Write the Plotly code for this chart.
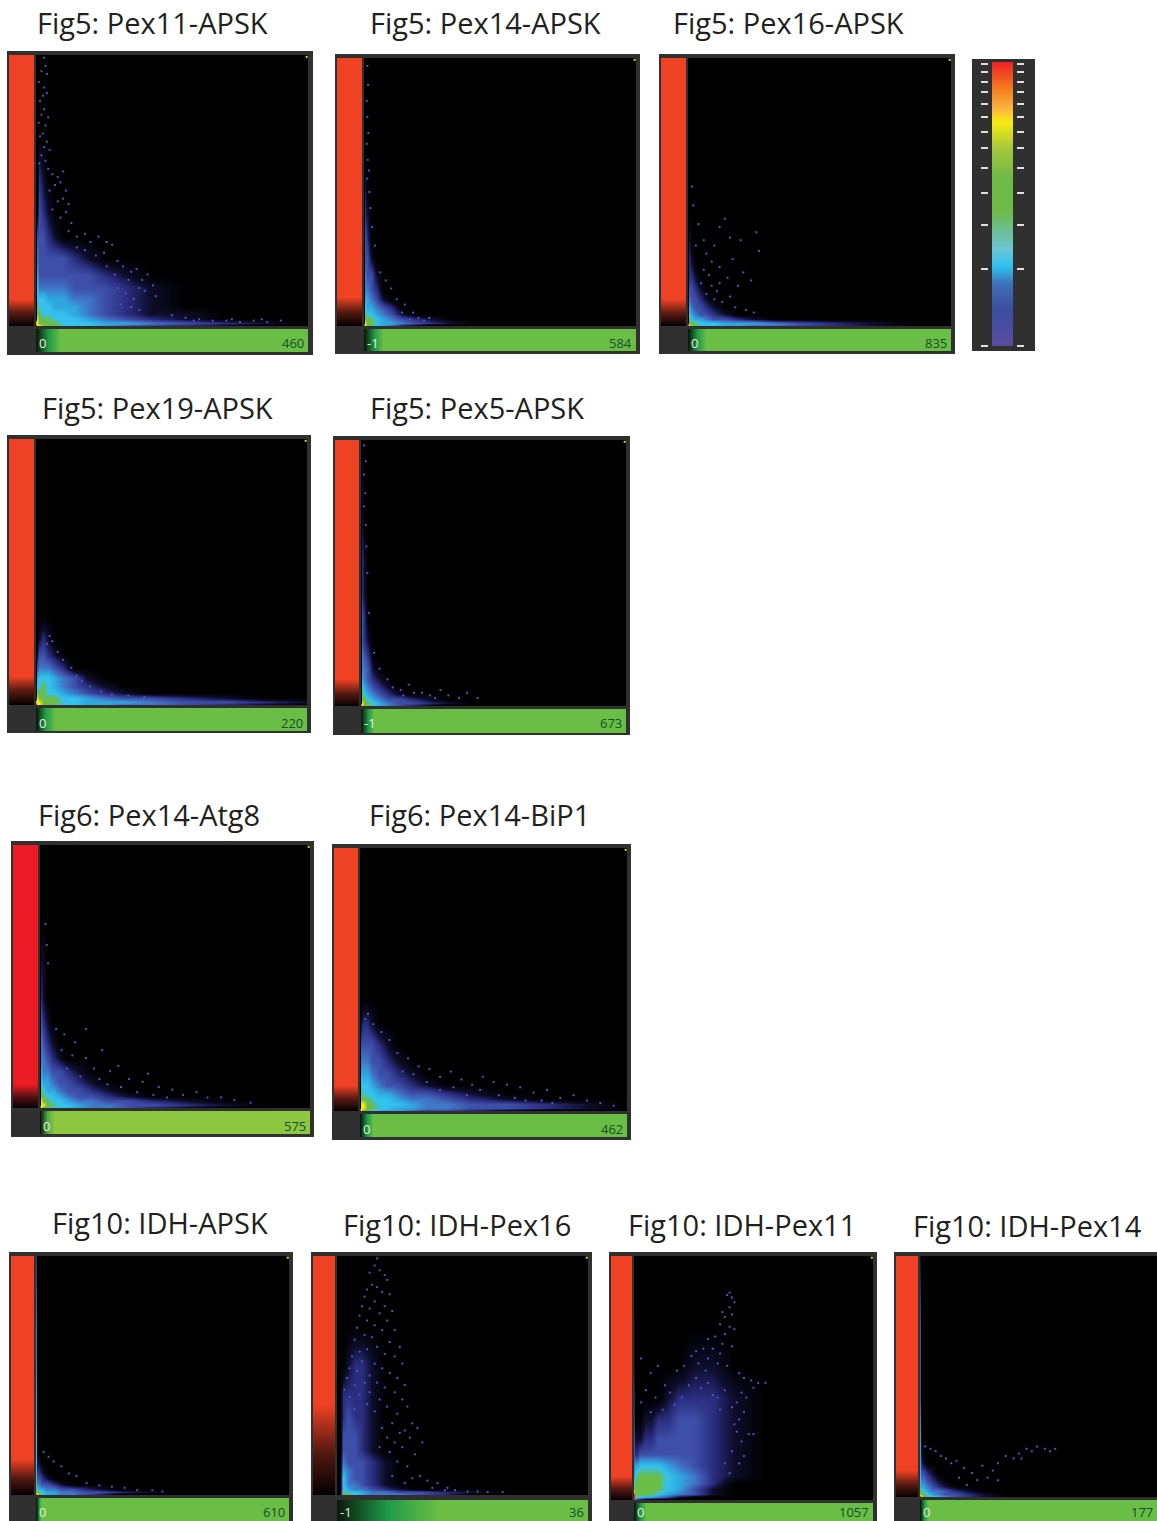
import plotly.graph_objects as go

W, H = 1157, 1521
FRAME = "#303030"

# density grid coordinates (fractions of each plot square)
GRID_X = [0, .005, .012, .025, .045, .07, .1, .14, .19, .25, .33, .42, .55, .7, .85, 1]
GRID_Y = [1, .85, .7, .55, .42, .33, .25, .19, .14, .1, .07, .045, .025, .012, .005, 0]

PEX11_APSK = ["0000000000000000","0000000000000000","0000000000000000","0021000000000000",
 "0032100000000000","0333210000000000","0433333210000000","0533333332100000",
 "0644444333210000","0666555443210000","0766655543210000","0776666543211000",
 "0877766654321000","8877776665543210","9887776665432100","9777655400000000"]
PEX14_APSK = ["0000000000000000","0000000000000000","0000000000000000","0100000000000000",
 "0210000000000000","0320000000000000","0331000000000000","0433100000000000",
 "0443200000000000","0554310000000000","0655432000000000","0766543100000000",
 "0777654321000000","0877655432100000","9877654210000000","9776531000000000"]
PEX16_APSK = ["0000000000000000","0000000000000000","0000000000000000","0000000000000000",
 "0000000000000000","0100000000000000","0210000000000000","0221000000000000",
 "0332100000000000","0433210000000000","0543321000000000","0654332100000000",
 "0765543321000000","0777666555432100","9877666554432100","9766544300000000"]
PEX19_APSK = ["0000000000000000","0000000000000000","0000000000000000","0000000000000000",
 "0000000000000000","0000000000000000","0012100000000000","0133210000000000",
 "0344432000000000","0566654310000000","0667654321000000","0777665432100000",
 "0877776654332100","8887776655543321","9887776655443210","9776654300000000"]
PEX5_APSK = ["0000000000000000","0100000000000000","0100000000000000","0210000000000000",
 "0210000000000000","0320000000000000","0321000000000000","0432000000000000",
 "0443100000000000","0543210000000000","0654321000000000","0765432100000000",
 "0776543321000000","0877654332100000","9877654321000000","9776432000000000"]
PEX14_ATG8 = ["0000000000000000","0000000000000000","0000000000000000","0110000000000000",
 "0210000000000000","0321000000000000","0432100000000000","0443210000000000",
 "0544332100000000","0655433210000000","0765543321000000","0776654332100000",
 "0877665443321000","0887766544332100","9877666544321000","9776543300000000"]
PEX14_BIP1 = ["0000000000000000","0000000000000000","0000000000000000","0000000000000000",
 "0000000000000000","0122100000000000","0333321000000000","0444332100000000",
 "0555433210000000","0666543321000000","0766655433210000","0777666544321000",
 "0887766654433210","0887766554433210","9877665543321000","9776543300000000"]
IDH_APSK = ["2000000000000000","3000000000000000","4000000000000000","4000000000000000",
 "5000000000000000","5000000000000000","6000000000000000","6000000000000000",
 "6110000000000000","6221000000000000","7332100000000000","7443321000000000",
 "7655443321000000","7776554433210000","9876554432000000","9765430000000000"]
IDH_PEX16 = ["0000000000000000","0000000000000000","0000000000000000","0000122100000000",
 "0002222100000000","0002322100000000","0003332100000000","0003332100000000",
 "0004333210000000","0005433210000000","0006433210000000","0006443210000000",
 "0006544321000000","0007665443321000","0007765444320000","0000000000000000"]
IDH_PEX11 = ["0000000000000000","0000000000000000","1000000000000000","1000000001100000",
 "2000000122210000","2000112233210000","3111223333210000","3223333333210000",
 "4556666543210000","5677777654210000","6777777654200000","7777777653100000",
 "9777776543100000","9766554310000000","9432100000000000","8200000000000000"]
IDH_PEX14 = ["1000000000000000","2000000000000000","3000000000000000","3000000000000000",
 "3000000000000000","4000000000000000","5000000000000000","5100000000000000",
 "5210000000000000","6332100000000000","6443210000000000","7554321000000000",
 "7765443210000000","7776543321000000","9877654321000000","9765430000000000"]

TITLES = ["Fig5: Pex11-APSK","Fig5: Pex14-APSK","Fig5: Pex16-APSK","Fig5: Pex19-APSK","Fig5: Pex5-APSK",
 "Fig6: Pex14-Atg8","Fig6: Pex14-BiP1","Fig10: IDH-APSK","Fig10: IDH-Pex16","Fig10: IDH-Pex11","Fig10: IDH-Pex14"]
GRIDS = [PEX11_APSK,PEX14_APSK,PEX16_APSK,PEX19_APSK,PEX5_APSK,PEX14_ATG8,PEX14_BIP1,IDH_APSK,IDH_PEX16,IDH_PEX11,IDH_PEX14]
MIN_LABELS = ["0","-1","0","0","-1","0","0","0","-1","0","0"]
MAX_LABELS = ["460","584","835","220","673","575","462","610","36","1057","177"]
RED_FADE = [.10,.11,.10,.11,.10,.09,.10,.15,.38,.10,.11]
GREEN_FADE = [.09,.07,.07,.07,.05,.05,.05,.02,.40,.05,.03]

# hand-read speckle points (x, y as fractions of the plot square)
SPECK_PEX11 = [(.03,.99),(.035,.96),(.02,.94),(.04,.93),(.01,.9),(.03,.88),(.025,.85),(.04,.86),(.015,.83),(.03,.8),(.02,.78),(.045,.77),(.01,.75),(.035,.74),(.025,.71),(.015,.7),(.04,.68),(.03,.66),(.05,.65),(.02,.63),(.035,.61),(.012,.6),(.045,.58),(.06,.56),(.08,.55),(.1,.57),(.09,.53),(.07,.52),(.11,.5),(.05,.5),(.1,.47),(.08,.46),(.12,.45),(.06,.43),(.11,.42),(.09,.4),(.13,.38),(.12,.35),(.15,.33),(.18,.34),(.2,.31),(.23,.33),(.26,.31),(.28,.3),(.25,.27),(.3,.24),(.32,.22),(.35,.2),(.37,.21),(.34,.17),(.39,.17),(.41,.19),(.38,.14),(.4,.13),(.43,.15),(.44,.11),(.36,.1),(.33,.12),(.3,.14),(.31,.08),(.35,.07),(.38,.06),(.29,.19),(.26,.22),(.22,.26),(.18,.28),(.15,.29),(.5,.04),(.55,.03),(.6,.025),(.65,.02),(.7,.02),(.75,.015),(.8,.02),(.85,.015),(.9,.02),(.58,.02),(.72,.025),(.83,.025)]
SPECK_PEX14 = [(.012,.97),(.015,.9),(.01,.84),(.012,.78),(.016,.72),(.01,.68),(.014,.62),(.018,.58),(.012,.55),(.02,.5),(.024,.44),(.03,.37),(.04,.3),(.06,.2),(.08,.17),(.1,.14),(.12,.1),(.15,.08),(.14,.05),(.18,.05),(.2,.03),(.24,.03),(.22,.02),(.17,.025)]
SPECK_PEX16 = [(.12,.37),(.14,.4),(.16,.33),(.1,.3),(.2,.32),(.26,.35),(.27,.28),(.07,.27),(.09,.24),(.12,.22),(.17,.25),(.21,.2),(.06,.21),(.15,.18),(.19,.15),(.24,.17),(.05,.16),(.11,.13),(.03,.3),(.04,.38),(.06,.32),(.08,.19),(.1,.1),(.13,.09),(.16,.11),(.09,.15),(.02,.45),(.015,.52),(.07,.12),(.18,.07),(.22,.06),(.25,.05),(.12,.16)]
SPECK_PEX19 = [(.05,.26),(.06,.24),(.04,.23),(.08,.2),(.1,.17),(.13,.14),(.15,.11),(.17,.09),(.2,.07),(.24,.05),(.28,.04),(.34,.035),(.4,.03)]
SPECK_PEX5 = [(.012,.98),(.018,.92),(.012,.87),(.016,.8),(.012,.75),(.018,.68),(.02,.6),(.024,.5),(.03,.35),(.05,.2),(.07,.14),(.1,.1),(.12,.07),(.15,.06),(.18,.08),(.2,.05),(.23,.05),(.26,.04),(.3,.06),(.33,.04),(.37,.03),(.4,.05),(.44,.03),(.16,.04),(.28,.03)]
SPECK_ATG8 = [(.02,.7),(.025,.62),(.03,.55),(.06,.3),(.09,.28),(.13,.25),(.17,.3),(.08,.22),(.12,.2),(.17,.19),(.23,.22),(.2,.15),(.26,.14),(.29,.16),(.33,.11),(.38,.1),(.4,.13),(.44,.08),(.49,.07),(.53,.05),(.58,.06),(.62,.04),(.67,.04),(.72,.03),(.78,.02),(.3,.08),(.36,.06),(.42,.05),(.47,.04),(.25,.09),(.15,.12),(.1,.15),(.22,.11)]
SPECK_BIP1 = [(.03,.37),(.02,.35),(.05,.33),(.08,.3),(.11,.27),(.14,.22),(.18,.2),(.22,.17),(.26,.16),(.3,.13),(.34,.15),(.38,.12),(.42,.1),(.46,.13),(.5,.11),(.55,.1),(.6,.09),(.65,.07),(.7,.08),(.75,.05),(.8,.06),(.85,.04),(.9,.03),(.95,.02),(.35,.09),(.45,.08),(.52,.06),(.58,.05),(.62,.04),(.68,.04),(.4,.06),(.25,.11),(.3,.08),(.2,.14),(.16,.15),(.72,.03)]
SPECK_IDHAPSK = [(.03,.18),(.05,.16),(.07,.14),(.1,.12),(.13,.09),(.16,.08),(.2,.05),(.25,.04),(.3,.035),(.35,.03),(.4,.02),(.46,.02),(.5,.015)]
SPECK_IDHP16 = [(.16,.99),(.15,.96),(.17,.94),(.13,.93),(.19,.92),(.2,.9),(.14,.88),(.12,.86),(.16,.87),(.18,.85),(.11,.83),(.21,.84),(.15,.81),(.1,.79),(.13,.78),(.19,.79),(.22,.77),(.09,.75),(.17,.76),(.12,.73),(.15,.71),(.2,.73),(.08,.7),(.18,.69),(.11,.67),(.23,.69),(.14,.66),(.07,.65),(.21,.64),(.16,.62),(.25,.62),(.09,.6),(.12,.61),(.19,.59),(.06,.58),(.23,.58),(.1,.56),(.15,.55),(.26,.55),(.05,.53),(.18,.53),(.08,.52),(.13,.5),(.21,.51),(.24,.49),(.04,.49),(.11,.47),(.16,.47),(.07,.46),(.27,.46),(.19,.45),(.03,.44),(.13,.43),(.23,.43),(.09,.42),(.05,.41),(.17,.4),(.26,.4),(.12,.38),(.2,.37),(.28,.37),(.07,.36),(.15,.35),(.24,.34),(.3,.3),(.27,.27),(.32,.28),(.29,.24),(.34,.22),(.26,.2),(.31,.17),(.24,.14),(.28,.12),(.33,.08),(.36,.06),(.4,.05),(.44,.03),(.47,.02),(.52,.015),(.56,.015),(.6,.012),(.66,.012),(.3,.07),(.27,.05),(.22,.08),(.38,.03),(.43,.02),(.2,.24),(.22,.3),(.18,.28),(.25,.26),(.21,.18),(.17,.2),(.23,.22)]
SPECK_IDHP11 = [(.4,.85),(.41,.83),(.39,.84),(.42,.81),(.4,.79),(.37,.77),(.41,.76),(.38,.75),(.36,.72),(.42,.7),(.4,.71),(.38,.68),(.34,.67),(.31,.66),(.37,.64),(.41,.63),(.29,.62),(.33,.62),(.26,.61),(.36,.6),(.24,.59),(.31,.58),(.27,.56),(.21,.55),(.35,.56),(.39,.55),(.18,.53),(.3,.53),(.44,.52),(.46,.5),(.49,.49),(.52,.48),(.5,.46),(.55,.48),(.45,.44),(.47,.42),(.43,.4),(.38,.45),(.35,.42),(.41,.38),(.46,.36),(.44,.33),(.42,.31),(.48,.27),(.5,.27),(.45,.24),(.46,.18),(.44,.15),(.41,.2),(.38,.15),(.4,.11),(.43,.28),(.1,.55),(.03,.58),(.07,.52),(.13,.47),(.05,.45),(.09,.42),(.15,.44),(.03,.4),(.12,.37),(.07,.36),(.17,.39),(.2,.42),(.23,.47),(.26,.5),(.28,.46),(.31,.48),(.33,.43),(.36,.37)]
SPECK_IDHP14 = [(.02,.21),(.04,.2),(.06,.19),(.08,.17),(.1,.16),(.12,.14),(.14,.15),(.17,.12),(.2,.1),(.24,.13),(.28,.11),(.3,.14),(.33,.17),(.36,.16),(.38,.18),(.41,.2),(.43,.19),(.45,.21),(.48,.2),(.5,.19),(.52,.2),(.39,.16),(.26,.08),(.22,.07),(.18,.05),(.3,.07),(.15,.08)]
SPECKS = {0:SPECK_PEX11,1:SPECK_PEX14,2:SPECK_PEX16,3:SPECK_PEX19,4:SPECK_PEX5,5:SPECK_ATG8,6:SPECK_BIP1,7:SPECK_IDHAPSK,8:SPECK_IDHP16,9:SPECK_IDHP11,10:SPECK_IDHP14}

# legend bar stops
LEG_POS = [0,.127,.22,.28,.34,.40,.48,.595,.70,.79,.84,.90,1]
LEG_VAL = [i/12 for i in range(13)]
LEG_COLORS = ["#5b4a9f","#3a4ea0","#3f6fb8","#2cc0f0","#6cc6d8","#6bbf9c","#6dbb45","#6dbb45","#a8c83b","#f7ec13","#fbb040","#f58220","#ee2224"]
LEG_TICK_PX = [64,72,82,92,104,117,132,148,168,193,225,269,346]

# pixel geometry: frame, red bar, plot, green bar, title position
GEOM = [
 ((7,51,313,355),(9,34),(36,308,55,326),(329,352),(35,22)),
 ((335,54,640,354),(337,362),(364,636,58,326),(329,351),(368,22)),
 ((659,54,955,354),(661,686),(688,951,58,326),(329,351),(671,22)),
 ((7,435,311,733),(9,34),(36,307,439,705),(708,731),(40,407)),
 ((333,436,630,735),(335,359),(361,626,440,706),(709,733),(368,407)),
 ((11,841,314,1137),(13,38),(40,310,845,1108),(1111,1134),(36,814)),
 ((332,844,631,1140),(334,358),(360,627,848,1111),(1114,1137),(367,814)),
 ((9,1252,293,1530),(11,34),(36,289,1256,1495),(1498,1530),(50,1222)),
 ((311,1252,592,1530),(313,335),(337,588,1256,1495),(1500,1530),(341,1224)),
 ((609,1252,877,1530),(611,632),(634,873,1256,1500),(1503,1530),(626,1224)),
 ((894,1252,1180,1530),(896,918),(920,1180,1256,1497),(1500,1530),(911,1225)),
]

DENSITY_SCALE = [[0,"#000000"],[1/9,"#0d0d2a"],[2/9,"#2a2e80"],[3/9,"#3d4fa8"],[4/9,"#3f78c8"],
                 [5/9,"#2fa8e0"],[6/9,"#35c2ee"],[7/9,"#6abd45"],[8/9,"#f5e90f"],[1,"#ee2024"]]
RED_SCALE = [[0,"#000000"],[.5,"#5a1a12"],[1,"#ef4123"]]
GREEN_SCALE = [[0,"#0a1a0a"],[.5,"#1f9a48"],[1,"#6abd45"]]

fig = go.Figure()
layout_axes, shapes, annotations = {}, [], []
axn = [0]


def new_axes(x0, x1, y0, y1, xr=(0, 1), yr=(0, 1), **ykw):
    """make an axis pair covering a pixel box (y downward in pixels)"""
    axn[0] += 1
    n = axn[0]
    sfx = "" if n == 1 else str(n)
    span = (min(x1, W) - x0) / (x1 - x0)
    layout_axes["xaxis" + sfx] = dict(domain=[x0 / W, min(x1 / W, 1)], range=[xr[0], xr[0] + (xr[1] - xr[0]) * span],
                                      visible=False, anchor="y" + sfx, fixedrange=True)
    yy = dict(domain=[1 - min(y1, H) / H, 1 - y0 / H], anchor="x" + sfx, fixedrange=True, visible=False)
    clip = (min(y1, H) - y0) / (y1 - y0)
    yy["range"] = [yr[1] - (yr[1] - yr[0]) * clip, yr[1]]
    yy.update(ykw)
    layout_axes["yaxis" + sfx] = yy
    return "x" + sfx, "y" + sfx


def box(x0, y0, x1, y1, color):
    shapes.append(dict(type="rect", xref="paper", yref="paper", x0=x0 / W, x1=x1 / W, y0=1 - y0 / H, y1=1 - y1 / H,
                       fillcolor=color, line_width=0, layer="below"))


for i, (frame, red, plot, green, ttl) in enumerate(GEOM):
    box(*frame, FRAME)
    px0, px1, py0, py1 = plot
    box(px0, py0, min(px1, W + 5), py1, "#000000")
    f = RED_FADE[i]
    xa, ya = new_axes(red[0], red[1], py0, py1)
    fig.add_trace(go.Heatmap(x=[0, 1], y=[0, f * .5, f, 1], z=[[0, 0], [.5, .5], [1, 1], [1, 1]], zmin=0, zmax=1,
                             colorscale=RED_SCALE if i != 5 else [[0, "#000"], [.5, "#5a1015"], [1, "#ed1c24"]],
                             showscale=False, zsmooth="best", xaxis=xa, yaxis=ya, hoverinfo="skip"))
    g = GREEN_FADE[i]
    xa, ya = new_axes(px0, px1, green[0], green[1])
    fig.add_trace(go.Heatmap(x=[0, g * .5, g, 1], y=[0, 1], z=[[0, .5, 1, 1], [0, .5, 1, 1]], zmin=0, zmax=1,
                             colorscale=GREEN_SCALE if i != 5 else [[0, "#0a1a0a"], [.5, "#50a848"], [1, "#8dc63f"]],
                             showscale=False, zsmooth="best", xaxis=xa, yaxis=ya, hoverinfo="skip"))
    xa, ya = new_axes(px0, px1, py0, py1)
    z = [[int(c) for c in row] for row in GRIDS[i]]
    fig.add_trace(go.Heatmap(x=GRID_X, y=GRID_Y, z=z, zmin=0, zmax=9, colorscale=DENSITY_SCALE, showscale=False,
                             zsmooth="best", xaxis=xa, yaxis=ya, hoverinfo="skip"))
    pts = SPECKS[i]
    fig.add_trace(go.Scatter(x=[p[0] for p in pts], y=[p[1] for p in pts], mode="markers", xaxis=xa, yaxis=ya,
                             hoverinfo="skip", marker=dict(symbol="square", size=2, color="#5054bb", line_width=0)))
    fig.add_trace(go.Scatter(x=[.995], y=[.993], mode="markers", xaxis=xa, yaxis=ya, hoverinfo="skip",
                             marker=dict(symbol="square", size=2, color="#d8d820", line_width=0)))
    annotations.append(dict(text=TITLES[i], x=ttl[0] / W, y=1 - ttl[1] / H, xref="paper", yref="paper", xanchor="left",
                            yanchor="middle", showarrow=False, font=dict(family="Open Sans", size=29, color="#231f20")))
    ly = min((green[0] + green[0] + 23) / 2 + 3, 1512)
    annotations.append(dict(text=MIN_LABELS[i], x=(px0 + 1) / W, y=1 - ly / H, xref="paper", yref="paper", xanchor="left",
                            yanchor="middle", showarrow=False, font=dict(family="Open Sans", size=13, color="#e4f0dc")))
    right = dict(xanchor="right", x=(min(px1, W) - 2) / W)
    annotations.append(dict(text=MAX_LABELS[i], y=1 - ly / H, xref="paper", yref="paper", yanchor="middle",
                            showarrow=False, font=dict(family="Open Sans", size=13, color="#12502a"), **right))

# legend bar
box(972, 59, 1035, 351, FRAME)
xa, ya = new_axes(989, 1016, 62, 346, visible=True, showline=False, showgrid=False, zeroline=False,
                  tickmode="array", tickvals=[(346 - p) / 284 for p in LEG_TICK_PX], ticktext=[""] * 13, ticks="outside",
                  ticklen=7, tickwidth=1.5, tickcolor="#e0e0e0", mirror="ticks")
fig.add_trace(go.Heatmap(x=[8.25 / 27, 18.75 / 27], y=LEG_POS, z=[[v, v] for v in LEG_VAL], zmin=0, zmax=1,
                         colorscale=[[v, c] for v, c in zip(LEG_VAL, LEG_COLORS)], showscale=False, zsmooth="best",
                         xaxis=xa, yaxis=ya, hoverinfo="skip"))

fig.update_layout(width=W, height=H, margin=dict(l=0, r=0, t=0, b=0), paper_bgcolor="white", plot_bgcolor="rgba(0,0,0,0)",
                  showlegend=False, shapes=shapes, annotations=annotations, **layout_axes)
fig.write_html("out.html", config=dict(displayModeBar=False), post_script="document.body.style.margin='0';")
